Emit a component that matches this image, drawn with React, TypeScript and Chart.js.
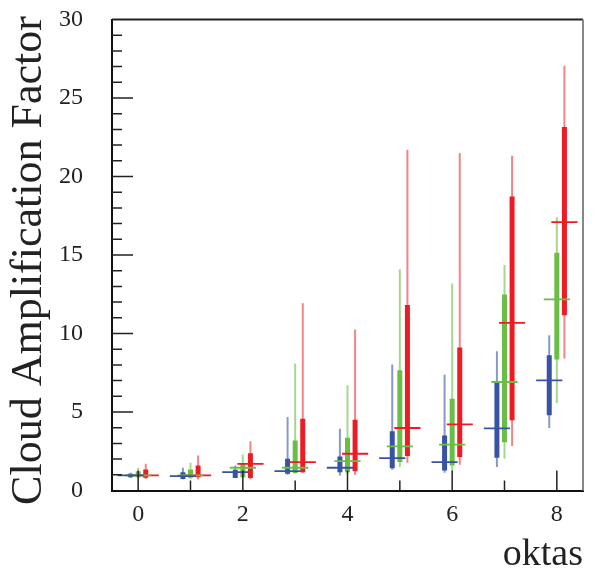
import React, { useEffect, useRef } from 'react';
import { Chart, registerables } from 'chart.js';

Chart.register(...registerables);

// Categories (cloud cover, oktas)
const oktas = [0, 1, 2, 3, 4, 5, 6, 7, 8];

// Blue series: min, lower quartile, median, upper quartile, max
const blueMin = [0.79, 0.70, 0.79, 1.00, 0.96, 1.32, 1.13, 1.49, 3.98];
const blueQ1 = [0.85, 0.74, 0.79, 1.06, 1.17, 1.42, 1.28, 2.09, 4.79];
const blueMed = [0.96, 0.91, 1.17, 1.23, 1.45, 2.06, 1.81, 3.96, 7.02];
const blueQ3 = [1.06, 1.17, 1.32, 2.02, 2.17, 3.77, 3.51, 6.85, 8.62];
const blueMax = [1.13, 1.45, 1.60, 4.68, 3.94, 8.02, 7.38, 8.87, 9.89];

// Green series
const greenMin = [0.79, 0.74, 0.79, 1.06, 1.06, 1.49, 1.28, 2.02, 5.57];
const greenQ1 = [0.85, 0.81, 0.85, 1.11, 1.17, 1.81, 1.60, 3.08, 8.34];
const greenMed = [0.96, 0.96, 1.45, 1.45, 1.87, 2.81, 2.92, 6.91, 12.17];
const greenQ3 = [1.23, 1.34, 1.70, 3.19, 3.36, 7.66, 5.85, 12.49, 15.15];
const greenMax = [1.45, 1.77, 2.30, 8.09, 6.70, 14.09, 13.19, 14.36, 17.40];

// Red series
const redMin = [0.74, 0.70, 0.70, 1.11, 1.00, 1.77, 1.64, 2.83, 8.40];
const redQ1 = [0.81, 0.85, 0.79, 1.17, 1.23, 2.19, 2.13, 4.47, 11.17];
const redMed = [0.96, 0.96, 1.70, 1.81, 2.34, 3.98, 4.21, 10.68, 17.09];
const redQ3 = [1.34, 1.60, 2.38, 4.57, 4.51, 11.81, 9.11, 18.72, 23.15];
const redMax = [1.70, 2.23, 3.13, 11.92, 10.26, 21.70, 21.49, 21.32, 27.06];

// Axis ticks
const xTickValues = oktas;
const yTickValues = Array.from({ length: 31 }, (_, i) => i);

const FONT = "'Liberation Serif', 'Times New Roman', serif";

type Series = {
  min: number[]; q1: number[]; med: number[]; q3: number[]; max: number[];
  color: string; light: string; offset: number;
};

const SERIES: Series[] = [
  { min: blueMin, q1: blueQ1, med: blueMed, q3: blueQ3, max: blueMax, color: '#3953a4', light: 'rgba(57,83,164,0.6)', offset: -0.145 },
  { min: greenMin, q1: greenQ1, med: greenMed, q3: greenQ3, max: greenMax, color: '#6abd45', light: 'rgba(106,189,69,0.6)', offset: 0 },
  { min: redMin, q1: redQ1, med: redMed, q3: redQ3, max: redMax, color: '#ed1c24', light: 'rgba(237,28,36,0.55)', offset: 0.145 },
];

function verticalSegments(s: Series, lo: number[], hi: number[]) {
  return oktas.flatMap((o, i) => [
    { x: o + s.offset, y: lo[i] },
    { x: o + s.offset, y: hi[i] },
    { x: o + s.offset, y: null },
  ]);
}

function medianSegments(s: Series) {
  return oktas.flatMap((o, i) => [
    { x: o + s.offset - 0.25, y: s.med[i] },
    { x: o + s.offset + 0.25, y: s.med[i] },
    { x: o + s.offset, y: null },
  ]);
}

const framePlugin = {
  id: 'frameTicks',
  afterDraw(chart: any) {
    const { ctx, chartArea } = chart;
    const xs = chart.scales.x;
    const ys = chart.scales.y;
    ctx.save();
    ctx.strokeStyle = '#222';
    ctx.lineWidth = 1.5;
    ctx.beginPath();
    xTickValues.forEach((v) => {
      const px = xs.getPixelForValue(v);
      const len = v % 2 === 0 ? 20 : 10;
      ctx.moveTo(px, chartArea.bottom);
      ctx.lineTo(px, chartArea.bottom - len);
    });
    yTickValues.forEach((v) => {
      if (v === 0 || v === 30) return;
      const py = ys.getPixelForValue(v);
      const len = v % 5 === 0 ? 21 : 10;
      ctx.moveTo(chartArea.left, py);
      ctx.lineTo(chartArea.left + len, py);
    });
    ctx.stroke();
    // top frame line
    ctx.lineWidth = 2;
    ctx.strokeStyle = '#222';
    ctx.beginPath();
    ctx.moveTo(chartArea.left, chartArea.top);
    ctx.lineTo(chartArea.right, chartArea.top);
    ctx.stroke();
    // right frame line
    ctx.strokeStyle = '#888';
    ctx.beginPath();
    ctx.moveTo(chartArea.right, chartArea.top);
    ctx.lineTo(chartArea.right, chartArea.bottom);
    ctx.stroke();
    ctx.restore();
  },
};

export default function App() {
  const ref = useRef<HTMLCanvasElement | null>(null);

  useEffect(() => {
    document.body.style.margin = '0';
    const canvas = ref.current;
    if (!canvas) return;

    const datasets: any[] = [];
    SERIES.forEach((s) => {
      datasets.push({
        type: 'line',
        data: verticalSegments(s, s.min, s.max),
        borderColor: s.light,
        borderWidth: 2,
        pointRadius: 0,
        spanGaps: false,
        borderCapStyle: 'butt',
        order: 3,
      });
      datasets.push({
        type: 'line',
        data: verticalSegments(s, s.q1, s.q3),
        borderColor: s.color,
        borderWidth: 5,
        pointRadius: 0,
        spanGaps: false,
        borderCapStyle: 'butt',
        order: 2,
      });
      datasets.push({
        type: 'line',
        data: medianSegments(s),
        borderColor: s.color,
        borderWidth: 1.8,
        pointRadius: 0,
        spanGaps: false,
        borderCapStyle: 'butt',
        order: 1,
      });
    });

    const chart = new Chart(canvas, {
      type: 'line',
      data: { datasets },
      plugins: [framePlugin],
      options: {
        animation: false,
        responsive: false,
        devicePixelRatio: 1,
        layout: { padding: { top: 19.5, right: 13, left: 0, bottom: 0 } },
        plugins: { legend: { display: false }, tooltip: { enabled: false } },
        scales: {
          x: {
            type: 'linear',
            min: -0.5,
            max: 8.5,
            afterBuildTicks: (s: any) => { s.ticks = xTickValues.map((v) => ({ value: v })); },
            afterFit: (s: any) => { s.height = 83.5; s.paddingLeft = 0; s.paddingRight = 0; },
            grid: { display: false, drawTicks: false },
            border: { display: true, color: '#111', width: 2 },
            ticks: {
              autoSkip: false,
              maxRotation: 0,
              padding: 10,
              color: '#222',
              font: { family: FONT, size: 24 },
              callback: (v: any) => (Number(v) % 2 === 0 ? String(v) : ''),
            },
            title: {
              display: true,
              text: 'oktas',
              align: 'end',
              color: '#222',
              font: { family: FONT, size: 38, lineHeight: 1 },
              padding: { top: 0, bottom: 0 },
            },
          },
          y: {
            type: 'linear',
            min: 0,
            max: 30,
            afterBuildTicks: (s: any) => { s.ticks = yTickValues.map((v) => ({ value: v })); },
            afterFit: (s: any) => { s.width = 112; s.paddingTop = 0; s.paddingBottom = 0; },
            grid: { display: false, drawTicks: false },
            border: { display: true, color: '#111', width: 2 },
            ticks: {
              autoSkip: false,
              padding: 29,
              color: '#222',
              font: { family: FONT, size: 24 },
              callback: (v: any) => (Number(v) % 5 === 0 ? String(v) : ''),
            },
            title: {
              display: true,
              text: 'Cloud Amplification Factor ',
              color: '#222',
              font: { family: FONT, size: 44, lineHeight: 1 },
              padding: { top: 7, bottom: 0 },
            },
          },
        },
      },
    } as any);

    return () => chart.destroy();
  }, []);

  return (
    <div style={{ width: 596, height: 574 }}>
      <canvas ref={ref} width={596} height={574} style={{ display: 'block' }} />
    </div>
  );
}
